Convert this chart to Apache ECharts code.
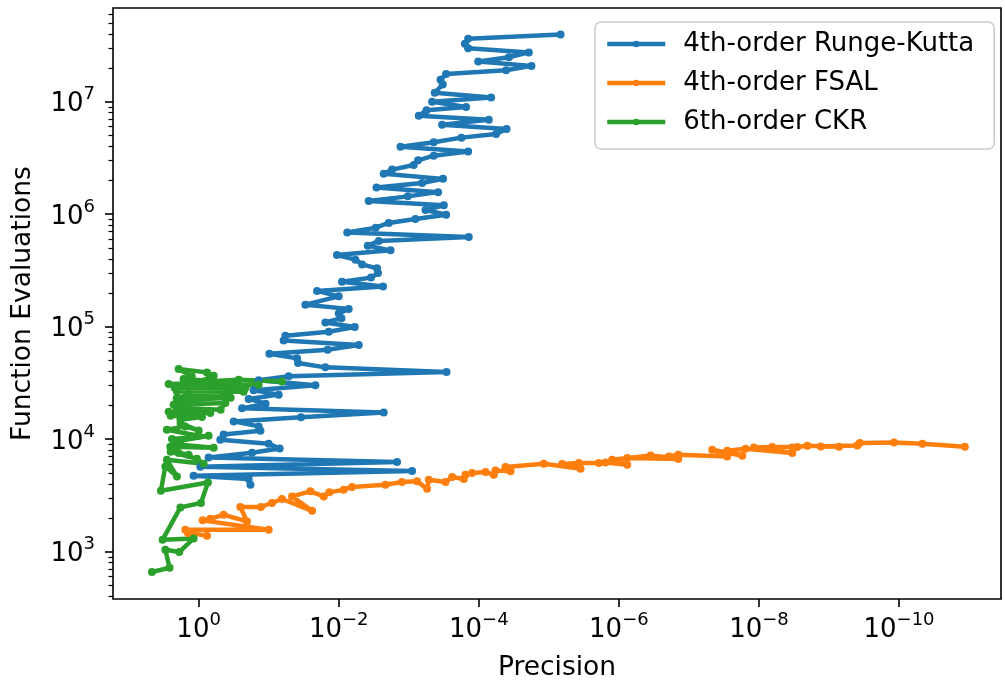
<!DOCTYPE html>
<html>
<head>
<meta charset="utf-8">
<title>Function Evaluations vs Precision</title>
<script src="https://cdn.jsdelivr.net/npm/echarts@6.0.0/dist/echarts.min.js"></script>
<style>
  html, body { margin: 0; padding: 0; background: #ffffff; }
  #chart { width: 1005px; height: 683px; }
</style>
</head>
<body>
<div id="chart"></div>
<script>
// [precision, function evaluations]
var rungeKutta = [
  [6.8e-6, 3.96e7], [1.42e-4, 3.63e7], [1.58e-4, 3.28e7], [1.42e-4, 2.98e7], [1.93e-5, 2.74e7],
  [3.72e-5, 2.48e7], [1.02e-4, 2.28e7], [1.77e-5, 2.08e7], [4.07e-5, 1.90e7], [2.93e-4, 1.76e7],
  [3.52e-4, 1.57e7], [3.27e-4, 1.42e7], [4.25e-4, 1.20e7], [6.67e-5, 1.09e7], [4.64e-4, 1.0e7],
  [1.52e-4, 8.97e6], [5.58e-4, 8.37e6], [7.2e-4, 7.51e6], [7.2e-5, 6.92e6], [3.34e-4, 6.25e6],
  [4.02e-5, 5.71e6], [5.66e-5, 5.16e6], [1.77e-4, 4.79e6], [4.4e-4, 4.35e6], [1.31e-3, 3.98e6],
  [1.42e-4, 3.61e6], [4.4e-4, 3.31e6], [7.36e-4, 3.01e6], [8.49e-4, 2.74e6], [1.73e-3, 2.49e6],
  [2.28e-3, 2.29e6], [3.24e-4, 2.06e6], [6.46e-4, 1.89e6], [2.89e-3, 1.73e6], [3.81e-4, 1.57e6],
  [1.03e-3, 1.44e6], [3.73e-3, 1.31e6], [3.16e-4, 1.20e6], [5.77e-4, 1.09e6], [2.93e-4, 9.9e5],
  [8.02e-4, 9.06e5], [1.93e-3, 8.36e5], [2.96e-3, 7.59e5], [7.56e-3, 6.89e5], [1.39e-4, 6.27e5],
  [2.68e-3, 5.78e5], [3.85e-3, 5.25e5], [1.82e-3, 4.77e5], [1.06e-2, 4.34e5], [5.77e-3, 3.94e5],
  [4.64e-3, 3.58e5], [2.84e-3, 3.30e5], [2.75e-3, 3.0e5], [3.46e-3, 2.73e5], [8.97e-3, 2.51e5],
  [2.33e-3, 2.28e5], [2.04e-2, 2.08e5], [1.0e-2, 1.86e5], [2.99e-2, 1.57e5], [7.2e-3, 1.44e5],
  [1.0e-2, 1.31e5], [9.14e-3, 1.19e5], [1.55e-2, 1.09e5], [5.9e-3, 9.94e4], [1.39e-2, 9.03e4],
  [5.77e-2, 8.32e4], [6.11e-2, 7.55e4], [5.18e-3, 6.87e4], [1.44e-2, 6.25e4], [9.77e-2, 5.75e4],
  [3.94e-2, 5.23e4], [3.81e-2, 4.75e4], [1.55e-2, 4.35e4], [2.89e-4, 3.96e4], [5.18e-2, 3.63e4],
  [1.39e-1, 3.34e4], [2.15e-2, 3.01e4], [1.64e-1, 2.72e4], [7.2e-2, 2.49e4], [1.93e-1, 2.28e4],
  [1.11e-1, 2.07e4], [2.4e-1, 1.88e4], [2.28e-3, 1.73e4], [3.46e-2, 1.57e4], [3.16e-1, 1.44e4],
  [1.39e-1, 1.30e4], [1.31e-1, 1.19e4], [4.4e-1, 1.10e4], [4.9e-1, 9.9e3], [1.0e-1, 9.12e3],
  [6.97e-2, 8.28e3], [1.73e-1, 7.59e3], [7.2e-1, 6.89e3], [1.47e-3, 6.27e3], [9.46e-1, 5.7e3],
  [8.97e-4, 5.21e3], [1.18, 4.74e3], [1.93e-1, 4.43e3], [1.82e-1, 3.94e3]
];

var fsal = [
  [0.76, 1390], [1.42, 1470], [1.55, 1570], [0.1, 1570], [0.877, 1900],
  [0.681, 1960], [0.44, 2130], [0.204, 1860], [0.254, 2500], [0.129, 2500],
  [0.0897, 2710], [0.0646, 2940], [0.024, 2310], [0.0464, 3100], [0.0254, 3440],
  [0.0164, 3100], [0.0136, 3370], [8.49e-3, 3560], [6.46e-3, 3760], [2.15e-3, 3940],
  [1.25e-3, 4170], [7.6e-4, 4220], [5.48e-4, 3630], [5.18e-4, 4370], [2.99e-4, 4170],
  [2.4e-4, 4610], [1.64e-4, 4430], [1.55e-4, 4830], [1.25e-4, 5010], [8.02e-5, 5110],
  [6.11e-5, 4830], [5.77e-5, 5280], [3.52e-5, 5180], [4.16e-5, 5660], [1.18e-5, 6050],
  [3.52e-6, 5470], [6.46e-6, 6020], [3.73e-6, 6140], [1.93e-6, 6140], [1.55e-6, 6220],
  [7.6e-7, 5930], [1.25e-6, 6570], [3.52e-7, 7180], [1.42e-7, 6670], [7.6e-7, 6810],
  [1.93e-7, 7030], [1.42e-7, 7280], [2.84e-8, 7030], [4.64e-8, 8070], [1.73e-8, 7130],
  [2.84e-8, 7900], [1.55e-8, 8240], [3.34e-9, 7540], [1.18e-8, 8450], [6.46e-9, 8530],
  [2.84e-9, 8530], [3.34e-9, 8450], [2.04e-9, 8750], [7.2e-10, 8580], [1.31e-9, 8630],
  [3.94e-10, 8810], [3.64e-10, 9250], [1.18e-10, 9370], [4.64e-11, 9120], [1.15e-11, 8580]
];

var ckr = [
  [4.64, 660], [2.6, 721], [2.99, 1042], [1.89, 994], [1.18, 1313],
  [3.27, 1279], [1.82, 2477], [0.927, 2710], [0.736, 4130], [3.46, 3483],
  [2.99, 5728], [2.04, 4670], [2.84, 6574], [0.849, 6053], [1.06, 6710],
  [2.51, 7743], [1.39, 7280], [1.93, 7540], [2.54, 8577], [0.61, 8400],
  [1.82, 8934], [2.4, 10040], [0.72, 10740], [2.2, 9500], [1.0, 10740],
  [2.84, 12140], [1.55, 13000], [1.0, 11970], [1.81, 13740], [1.82, 14900],
  [0.897, 15750], [2.51, 16180], [2.68, 17550], [0.681, 17100], [2.06, 19050],
  [0.485, 18290], [0.416, 20980], [2.28, 20260], [1.31, 22440], [0.349, 23380],
  [0.44, 23990], [2.06, 23000], [1.39, 25370], [0.373, 26600], [2.04, 26600],
  [0.228, 26440], [0.215, 28520], [2.2, 28700], [1.64, 29900], [0.306, 29900],
  [0.139, 30500], [2.68, 30960], [0.394, 31990], [1.64, 34280], [1.25, 36150],
  [1.93, 42070], [0.76, 39260], [0.61, 36660], [0.98, 32450], [0.268, 33800],
  [0.0646, 32650]
];

var seriesNames = ['4th-order Runge-Kutta', '4th-order FSAL', '6th-order CKR'];
var colors = ['#1f77b4', '#ff7f0e', '#2ca02c'];

// axis extents and tick values
var xMin = 3.5e-12, xMax = 16.7;
var yMin = 380, yMax = 6.8e7;
var xTicks = [1, 1e-2, 1e-4, 1e-6, 1e-8, 1e-10];
var yTicks = [1e3, 1e4, 1e5, 1e6, 1e7];
var yMinorTicks = [];
for (var d = 100; d <= 1e7; d *= 10) {
  for (var m = 2; m <= 9; m++) {
    var v = m * d;
    if (v > yMin && v < yMax) yMinorTicks.push(v);
  }
}

var FONT = 'DejaVu Sans';

function powLabel(v) {
  var p = Math.round(Math.log10(v));
  var e = p < 0 ? '\u2212' + (-p) : String(p);
  return '{b|10}{s|' + e + '}';
}

var richSup = {
  b: { fontFamily: FONT, fontSize: 26, color: '#000', lineHeight: 32, verticalAlign: 'bottom' },
  s: { fontFamily: FONT, fontSize: 18, color: '#000', lineHeight: 12, verticalAlign: 'top' }
};

function makeSeries(i, data) {
  return {
    name: seriesNames[i],
    type: 'line',
    data: data,
    symbol: 'circle',
    symbolSize: 8,
    showSymbol: true,
    lineStyle: { width: 4.5, color: colors[i] },
    itemStyle: { color: colors[i] },
    emphasis: { disabled: true }
  };
}

var chart = echarts.init(document.getElementById('chart'), null, { renderer: 'canvas' });
chart.setOption({
  animation: false,
  backgroundColor: '#ffffff',
  grid: {
    left: 113, right: 4, top: 8, bottom: 84,
    outerBoundsMode: 'none',
    containLabel: false,
    show: true, borderColor: '#000', borderWidth: 1.6, backgroundColor: 'transparent'
  },
  legend: {
    orient: 'vertical', left: 595, top: 22,
    itemWidth: 58, itemHeight: 8, itemGap: 9,
    padding: [7, 20, 12, 10],
    backgroundColor: 'rgba(255,255,255,0.8)',
    borderColor: '#cccccc', borderWidth: 1.5, borderRadius: 6,
    lineStyle: { width: 4.5 },
    textStyle: { fontFamily: FONT, fontSize: 26, color: '#000', lineHeight: 30, padding: [0, 0, 0, 13] },
    data: seriesNames
  },
  xAxis: {
    type: 'log',
    logBase: 100,
    inverse: true,
    min: xMin, max: xMax,
    name: 'Precision',
    nameLocation: 'middle',
    nameGap: 56,
    nameTextStyle: { fontFamily: FONT, fontSize: 26.5, color: '#000' },
    axisLine: { show: false },
    splitLine: { show: false },
    axisTick: { show: true, length: 8, lineStyle: { color: '#000', width: 1.6 }, customValues: xTicks },
    axisLabel: { margin: 12, formatter: powLabel, rich: richSup, customValues: xTicks }
  },
  yAxis: [{
    type: 'log',
    min: yMin, max: yMax,
    name: 'Function Evaluations',
    nameLocation: 'middle',
    nameGap: 76,
    nameTextStyle: { fontFamily: FONT, fontSize: 26.5, color: '#000' },
    axisLine: { show: false },
    splitLine: { show: false },
    axisTick: { show: true, length: 8, lineStyle: { color: '#000', width: 1.6 }, customValues: yTicks },
    axisLabel: { margin: 18, formatter: powLabel, rich: richSup, customValues: yTicks }
  }, {
    // second axis on the same side only carries the minor ticks
    type: 'log',
    position: 'left',
    min: yMin, max: yMax,
    axisLine: { show: false },
    splitLine: { show: false },
    axisLabel: { show: false },
    axisTick: { show: true, length: 4.5, lineStyle: { color: '#000', width: 1.2 }, customValues: yMinorTicks }
  }],
  series: [
    makeSeries(0, rungeKutta),
    makeSeries(1, fsal),
    makeSeries(2, ckr)
  ]
});
</script>
</body>
</html>
